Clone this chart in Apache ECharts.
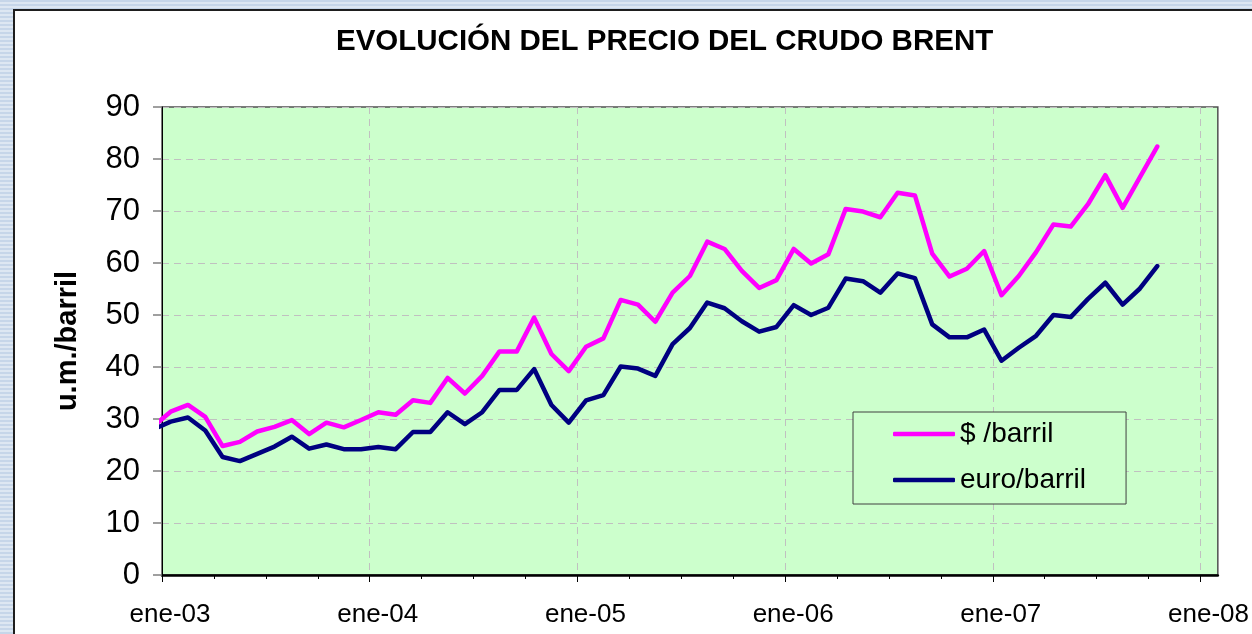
<!DOCTYPE html>
<html>
<head>
<meta charset="utf-8">
<script src="https://cdn.jsdelivr.net/npm/echarts@6/dist/echarts.min.js"></script>
<style>
  html, body {
    margin: 0;
    width: 1252px;
    height: 634px;
    overflow: hidden;
    background: repeating-linear-gradient(to bottom, #c6d6e9 0, #c6d6e9 2px, #dde7f2 2px, #dde7f2 4px);
  }
  .sheet {
    position: absolute;
    left: 13px;
    top: 9px;
    width: 1300px;
    height: 700px;
    background: #fff;
    border: 2px solid #1e1e1e;
  }
  #chart {
    position: absolute;
    left: 0;
    top: 0;
    width: 1252px;
    height: 634px;
  }
</style>
</head>
<body>
<div class="sheet"></div>
<div id="chart"></div>
<script>
// meses: dic-02 ... oct-07 (el primero queda fuera del eje y se recorta)
const monthNames = ['ene', 'feb', 'mar', 'abr', 'may', 'jun', 'jul', 'ago', 'sep', 'oct', 'nov', 'dic']
const months = ['dic-02']
for (let y = 3; y <= 7; y++) {
  monthNames.forEach(function (m, k) {
    if (y === 7 && k > 9) return
    months.push(m + '-0' + y)
  })
}

const usdBarril = [
  28.6,
  31.4, 32.7, 30.4, 24.8, 25.6, 27.6, 28.5, 29.8, 27.1, 29.3, 28.4, 29.8,
  31.3, 30.8, 33.6, 33.1, 37.9, 34.9, 38.3, 43.0, 43.0, 49.5, 42.5, 39.2,
  43.9, 45.5, 52.9, 52.0, 48.7, 54.3, 57.5, 64.1, 62.7, 58.5, 55.2, 56.7,
  62.7, 59.9, 61.7, 70.4, 69.9, 68.8, 73.5, 73.0, 61.8, 57.4, 58.9, 62.3,
  53.8, 57.5, 62.1, 67.4, 67.0, 71.3, 76.9, 70.6, 76.5, 82.4
]
const euroBarril = [
  28.0,
  29.5, 30.3, 27.8, 22.7, 21.9, 23.3, 24.7, 26.6, 24.3, 25.1, 24.2, 24.2,
  24.6, 24.2, 27.5, 27.5, 31.3, 29.0, 31.3, 35.6, 35.6, 39.6, 32.7, 29.3,
  33.6, 34.6, 40.1, 39.7, 38.3, 44.4, 47.5, 52.4, 51.3, 48.8, 46.8, 47.7,
  51.9, 50.0, 51.4, 57.0, 56.5, 54.3, 58.0, 57.1, 48.2, 45.7, 45.7, 47.2,
  41.2, 43.7, 46.0, 50.0, 49.6, 53.1, 56.2, 52.0, 55.1, 59.4
]
const yearLabels = ['ene-03', 'ene-04', 'ene-05', 'ene-06', 'ene-07', 'ene-08']
const yearTicks = [0, 12, 24, 36, 48, 60]
const quarterTicks = [0, 3, 6, 9, 12, 15, 18, 21, 24, 27, 30, 33, 36, 39, 42, 45, 48, 51, 54, 57, 60]

// eje x en meses desde ene-03; cada dato va a mitad de su mes
function toPoints(values) {
  return values.map(function (v, i) { return [i - 0.5, v] })
}

const font = 'Liberation Sans, Arial, sans-serif'
const myChart = echarts.init(document.getElementById('chart'))
const option = {
  backgroundColor: 'transparent',
  animation: false,
  title: {
    text: 'EVOLUCIÓN DEL PRECIO DEL CRUDO BRENT',
    left: 336,
    top: 27,
    padding: 0,
    textStyle: {
      fontFamily: font,
      fontSize: 29.5,
      fontWeight: 'bold',
      color: '#000'
    }
  },
  legend: {
    orient: 'vertical',
    left: 853,
    top: 412,
    padding: [8, 40, 10, 40],
    itemWidth: 62,
    itemHeight: 4.5,
    itemGap: 18,
    itemTextGap: 8,
    icon: 'roundRect',
    backgroundColor: '#CCFFCC',
    borderColor: '#404040',
    borderWidth: 1,
    textStyle: {
      fontFamily: font,
      fontSize: 28,
      color: '#000'
    },
    data: ['$ /barril', 'euro/barril']
  },
  grid: {
    left: 162,
    top: 107,
    right: 34,
    bottom: 59,
    show: true,
    backgroundColor: '#CCFFCC',
    borderColor: '#505050',
    borderWidth: 1.5
  },
  xAxis: [
    {
      type: 'value',
      min: 0,
      max: 61,
      interval: 3,
      position: 'bottom',
      axisLine: { show: true, onZero: false, lineStyle: { color: '#000', width: 2.5 } },
      axisTick: { show: true, length: 4, customValues: quarterTicks, lineStyle: { color: '#000', width: 1 } },
      axisLabel: { show: false },
      splitLine: { show: false }
    },
    {
      type: 'value',
      min: 0,
      max: 61,
      interval: 12,
      position: 'bottom',
      axisLine: { show: false },
      axisTick: { show: true, length: 7, customValues: yearTicks, lineStyle: { color: '#000', width: 1 } },
      axisLabel: {
        customValues: yearTicks,
        margin: 27,
        padding: [0, 0, 0, 16],
        fontFamily: font,
        fontSize: 26,
        color: '#000',
        formatter: function (v) { return yearLabels[Math.round(v / 12)] || '' }
      },
      splitLine: {
        show: true,
        lineStyle: { color: '#c0c0c0', type: [7, 5], width: 1 }
      }
    }
  ],
  yAxis: {
    type: 'value',
    min: 0,
    max: 90,
    interval: 10,
    name: 'u.m./barril',
    nameLocation: 'middle',
    nameRotate: 90,
    nameGap: 80,
    nameTextStyle: {
      fontFamily: font,
      fontSize: 29,
      fontWeight: 'bold',
      color: '#000'
    },
    axisLine: { show: true, lineStyle: { color: '#000', width: 1 } },
    axisTick: { show: true, length: 9, lineStyle: { color: '#808080', width: 1.5 } },
    axisLabel: {
      margin: 22,
      fontFamily: font,
      fontSize: 31,
      color: '#000'
    },
    splitLine: {
      show: true,
      lineStyle: { color: '#c0c0c0', type: [7, 5], width: 1 }
    }
  },
  series: [
    {
      name: '$ /barril',
      type: 'line',
      symbol: 'none',
      clip: true,
      color: '#FF00FF',
      lineStyle: { width: 4.5, color: '#FF00FF', cap: 'round', join: 'round' },
      data: toPoints(usdBarril)
    },
    {
      name: 'euro/barril',
      type: 'line',
      symbol: 'none',
      clip: true,
      color: '#000080',
      lineStyle: { width: 4.5, color: '#000080', cap: 'round', join: 'round' },
      data: toPoints(euroBarril)
    }
  ]
}
myChart.setOption(option)
</script>
</body>
</html>
